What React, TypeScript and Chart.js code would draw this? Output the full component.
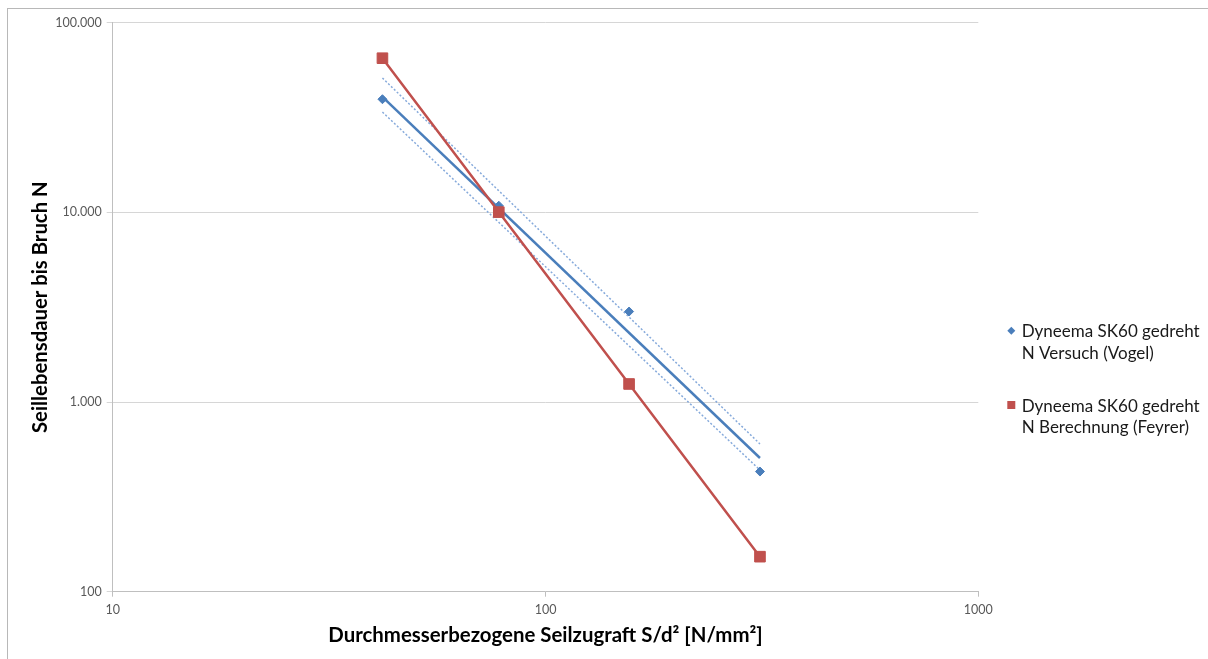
import React, { useEffect, useRef } from 'react';
import { Chart, registerables } from 'chart.js';

Chart.register(...registerables);

// ---- data ----
const stressValues = [42, 78, 156, 313]; // S/d² [N/mm²]
const lifeTest = [39500, 10840, 3000, 430]; // N Versuch (Vogel)
const lifeCalc = [65000, 10030, 1245, 153]; // N Berechnung (Feyrer)
const trendX = [42, 313];
const trendY = [40600, 507];
const bandUpperY = [51100, 601];
const bandLowerY = [33800, 438];
const xTickValues = [10, 100, 1000];
const xTickLabels = ['10', '100', '1000'];
const yTickValues = [100, 1000, 10000, 100000];
const yTickLabels = ['100', '1.000', '10.000', '100.000'];
const seriesNames = [
  ['Dyneema SK60 gedreht', 'N Versuch (Vogel)'],
  ['Dyneema SK60 gedreht', 'N Berechnung (Feyrer)'],
];
const xTitle = 'Durchmesserbezogene Seilzugraft S/d² [N/mm²]';
const yTitle = 'Seillebensdauer bis Bruch N';

const BLUE = '#4a7ebb';
const BLUE_LIGHT = '#86aadb';
const RED = '#c0504d';
const FONT = 'Lato, "Open Sans", sans-serif';

const toPoints = (xs: number[], ys: number[]) => xs.map((x, i) => ({ x, y: ys[i] }));

const legendPlugin = {
  id: 'sideLegend',
  afterDraw(chart: any) {
    const { ctx, chartArea } = chart;
    const left = chartArea.right;
    const top = chartArea.top;
    ctx.save();
    ctx.font = `17px ${FONT}`;
    ctx.textAlign = 'left';
    ctx.textBaseline = 'alphabetic';
    const entries = [
      { kind: 'diamond', color: BLUE, my: 308, lines: seriesNames[0], bases: [314, 336.6] },
      { kind: 'square', color: RED, my: 382.3, lines: seriesNames[1], bases: [389, 410.6] },
    ];
    entries.forEach((e) => {
      const mx = left + 33;
      const my = top + e.my;
      ctx.fillStyle = e.color;
      ctx.beginPath();
      if (e.kind === 'diamond') {
        const r = 4;
        ctx.moveTo(mx, my - r);
        ctx.lineTo(mx + r, my);
        ctx.lineTo(mx, my + r);
        ctx.lineTo(mx - r, my);
        ctx.closePath();
      } else {
        const h = 4;
        ctx.rect(mx - h, my - h, 2 * h, 2 * h);
      }
      ctx.fill();
      ctx.fillStyle = '#1a1a1a';
      e.lines.forEach((t: string, i: number) => {
        ctx.fillText(t, left + 43.4, top + e.bases[i]);
      });
    });
    ctx.restore();
  },
};

export default function App() {
  const ref = useRef<HTMLCanvasElement | null>(null);

  useEffect(() => {
    if (!ref.current) return;
    const chart = new Chart(ref.current, {
      type: 'scatter',
      data: {
        datasets: [
          {
            label: seriesNames[1].join(' '),
            type: 'line',
            data: toPoints(stressValues, lifeCalc),
            borderColor: RED,
            backgroundColor: RED,
            borderWidth: 2.5,
            pointStyle: 'rect',
            pointRadius: 7.5,
            pointBorderWidth: 1,
            pointBorderColor: RED,
            showLine: true,
            order: 1,
          } as any,
          {
            label: seriesNames[0].join(' '),
            data: toPoints(stressValues, lifeTest),
            borderColor: BLUE,
            backgroundColor: BLUE,
            pointStyle: 'rectRot',
            pointRadius: 4.5,
            pointBorderWidth: 1,
            showLine: false,
            order: 2,
          } as any,
          {
            label: 'Trend',
            type: 'line',
            data: toPoints(trendX, trendY),
            borderColor: BLUE,
            borderWidth: 2.5,
            pointRadius: 0,
            order: 3,
          } as any,
          {
            label: 'Upper',
            type: 'line',
            data: toPoints(trendX, bandUpperY),
            borderColor: BLUE_LIGHT,
            borderWidth: 1.5,
            borderDash: [2, 2],
            pointRadius: 0,
            order: 4,
          } as any,
          {
            label: 'Lower',
            type: 'line',
            data: toPoints(trendX, bandLowerY),
            borderColor: BLUE_LIGHT,
            borderWidth: 1.5,
            borderDash: [2, 2],
            pointRadius: 0,
            order: 5,
          } as any,
        ],
      },
      options: {
        animation: false,
        responsive: false,
        layout: { padding: { top: 13.7, right: 229.7, left: 0, bottom: 0 } },
        plugins: { legend: { display: false }, tooltip: { enabled: false } },
        scales: {
          x: {
            type: 'logarithmic',
            min: 10,
            max: 1000,
            afterBuildTicks: (scale: any) => {
              scale.ticks = xTickValues.map((v) => ({ value: v }));
            },
            afterFit: (scale: any) => {
              scale.height = 67.3;
            },
            ticks: {
              autoSkip: false,
              maxRotation: 0,
              padding: 6,
              color: '#595959',
              font: { family: FONT, size: 12.5 },
              callback: (v: any) => xTickLabels[xTickValues.indexOf(Number(v))],
            },
            grid: { drawOnChartArea: false, drawTicks: true, tickLength: 5, color: '#bfbfbf' },
            border: { display: true, color: '#bfbfbf', width: 1 },
            title: {
              display: true,
              text: xTitle,
              color: '#000',
              font: { family: FONT, size: 20.4, weight: 'bold' },
              padding: { top: 0, bottom: 11.5 },
            },
          },
          y: {
            type: 'logarithmic',
            min: 100,
            max: 100000,
            afterBuildTicks: (scale: any) => {
              scale.ticks = yTickValues.map((v) => ({ value: v }));
            },
            afterFit: (scale: any) => {
              scale.width = 104.7;
            },
            ticks: {
              autoSkip: false,
              padding: 5,
              color: '#595959',
              font: { family: FONT, size: 12.5 },
              callback: (v: any) => yTickLabels[yTickValues.indexOf(Number(v))],
            },
            grid: { color: '#d6d6d6', drawTicks: true, tickLength: 6 },
            border: { display: true, color: '#bfbfbf', width: 1 },
            title: {
              display: true,
              text: yTitle,
              color: '#000',
              font: { family: FONT, size: 20.3, weight: 'bold' },
              padding: { top: 20.5, bottom: 0 },
            },
          },
        },
      } as any,
      plugins: [legendPlugin],
    });
    return () => chart.destroy();
  }, []);

  return (
    <div
      style={{
        position: 'absolute',
        left: 7,
        top: 8,
        width: 1201,
        height: 651,
        borderLeft: '1px solid #b8b8b8',
        borderTop: '1px solid #b8b8b8',
        overflow: 'hidden',
        background: '#fff',
      }}
    >
      <canvas ref={ref} width={1200} height={650} style={{ display: 'block' }} />
    </div>
  );
}
